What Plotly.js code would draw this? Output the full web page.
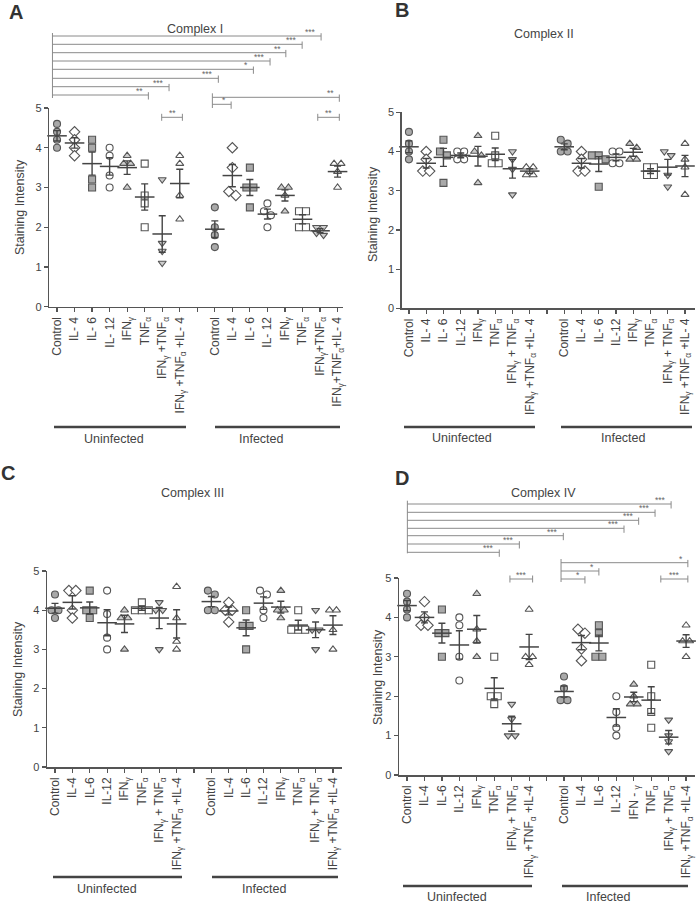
<!DOCTYPE html>
<html>
<head>
<meta charset="utf-8">
<script src="https://cdn.plot.ly/plotly-3.0.1.min.js"></script>
<style>html,body{margin:0;padding:0;background:#fff;}#chart{width:697px;height:903px;}</style>
</head>
<body>
<div id="chart"></div>
<script>
// ---------------- DATA ----------------
// Group order: 0-7 Uninfected, 8 = gap, 9-16 Infected
const treatments = ['Control','IL-4','IL-6','IL-12','IFNγ','TNFα','IFNγ+TNFα','IFNγ+TNFα+IL-4'];
const groupNames = ['Uninfected','Infected'];
const panelTitles = ['Complex I','Complex II','Complex III','Complex IV'];
const panelLetters = ['A','B','C','D'];

// Complex I
const complexI_points = [
  [4.6,4.4,4.2,4.0],[4.4,4.2,4.0,3.8],[4.2,4.0,3.2,3.0],[4.0,3.8,3.3,3.0],
  [3.8,3.6,3.6,3.0],[3.6,2.8,2.6,2.0],[3.2,1.6,1.4,1.1],[3.8,3.6,2.8,2.2],
  [2.5,2.0,1.8,1.5],[4.0,3.5,2.9,2.8],[3.5,3.0,3.0,2.5],[2.6,2.4,2.3,2.0],
  [3.0,3.0,2.8,2.4],[2.4,2.4,2.0,2.0],[2.0,2.0,1.85,1.8],[3.6,3.6,3.4,3.0]
];
const complexI_mean = [4.3,4.12,3.6,3.53,3.5,2.76,1.83,3.1, 1.95,3.3,3.0,2.33,2.8,2.2,1.91,3.4];
const complexI_sem  = [0.13,0.13,0.29,0.22,0.17,0.33,0.46,0.36, 0.21,0.28,0.2,0.125,0.14,0.115,0.05,0.14];

// Complex II
const complexII_points = [
  [4.5,4.2,4.0,3.8],[4.0,3.8,3.5,3.5],[4.3,4.0,3.9,3.2],[4.0,4.0,3.8,3.8],
  [4.4,4.0,3.9,3.2],[4.4,3.9,3.7,3.7],[4.0,3.8,3.55,2.9],[3.6,3.6,3.4,3.4],
  [4.3,4.2,4.0,4.0],[4.0,3.8,3.5,3.5],[3.9,3.9,3.8,3.1],[4.0,4.0,3.7,3.7],
  [4.2,4.1,3.8,3.8],[3.6,3.6,3.4,3.4],[4.0,3.9,3.4,3.1],[4.2,3.8,3.6,2.9]
];
const complexII_mean = [4.12,3.7,3.85,3.9,3.88,3.93,3.56,3.5, 4.12,3.7,3.68,3.85,3.98,3.5,3.6,3.63];
const complexII_sem  = [0.15,0.12,0.23,0.06,0.25,0.16,0.24,0.06, 0.075,0.12,0.19,0.087,0.1,0.06,0.2,0.27];

// Complex III
const complexIII_points = [
  [4.4,4.0,4.0,3.8],[4.5,4.5,4.0,3.8],[4.5,4.0,4.0,3.8],[4.5,3.9,3.3,3.0],
  [4.0,3.8,3.8,3.0],[4.2,4.0,4.0,4.0],[4.2,4.0,4.0,3.0],[4.6,3.8,3.2,3.0],
  [4.5,4.4,4.0,4.0],[4.2,4.0,4.0,3.7],[4.0,3.6,3.6,3.0],[4.5,4.4,4.0,3.8],
  [4.5,4.0,4.0,3.8],[4.0,3.5,3.5,3.5],[4.0,3.5,3.5,3.0],[4.0,4.0,3.5,3.0]
];
const complexIII_mean = [4.05,4.2,4.06,3.68,3.65,4.05,3.8,3.65, 4.22,3.98,3.55,4.18,4.08,3.62,3.5,3.62];
const complexIII_sem  = [0.125,0.17,0.15,0.33,0.22,0.05,0.27,0.36, 0.13,0.1,0.2,0.16,0.15,0.125,0.2,0.24];

// Complex IV
const complexIV_points = [
  [4.6,4.4,4.2,4.0],[4.4,4.0,3.8,3.8],[4.2,3.6,3.6,3.0],[4.0,3.8,3.0,2.4],
  [4.6,3.7,3.4,3.0],[3.0,2.0,2.0,1.8],[1.8,1.42,1.0,1.0],[4.2,3.0,3.0,2.8],
  [2.5,2.2,1.9,1.9],[3.7,3.6,3.2,2.9],[3.8,3.6,3.0,3.0],[2.0,1.6,1.2,1.0],
  [2.3,2.0,1.8,1.8],[2.8,2.0,1.6,1.2],[1.4,1.0,0.85,0.6],[3.8,3.4,3.4,3.0]
];
const complexIV_mean = [4.3,4.0,3.6,3.3,3.7,2.2,1.3,3.25, 2.12,3.36,3.35,1.46,1.98,1.9,0.96,3.4];
const complexIV_sem  = [0.13,0.14,0.25,0.36,0.35,0.27,0.19,0.32, 0.14,0.18,0.2,0.22,0.12,0.34,0.17,0.16];

// Tick labels
const ticksA = ['Control','IL- 4','IL- 6','IL- 12','IFN<sub>γ</sub>','TNF<sub>α</sub>','IFN<sub>γ</sub> +TNF<sub>α</sub>','IFN<sub>γ</sub> +TNF<sub>α</sub> +IL- 4','',
  'Control','IL- 4','IL- 6','IL- 12','IFN<sub>γ</sub>','TNF<sub>α</sub>','IFN<sub>γ</sub>+TNF<sub>α</sub>','IFN<sub>γ</sub>+TNF<sub>α</sub>+IL- 4'];
const ticksB = ['Control','IL- 4','IL- 6','IL-12','IFN<sub>γ</sub>','TNF<sub>α</sub>','IFN<sub>γ</sub> + TNF<sub>α</sub>','IFN<sub>γ</sub> +TNF<sub>α</sub> +IL- 4','',
  'Control','IL- 4','IL- 6','IL-12','IFN<sub>γ</sub>','TNF<sub>α</sub>','IFN<sub>γ</sub> + TNF<sub>α</sub>','IFN<sub>γ</sub> +TNF<sub>α</sub> +IL- 4'];
const ticksC = ['Control','IL-4','IL-6','IL-12','IFN<sub>γ</sub>','TNF<sub>α</sub>','IFN<sub>γ</sub> + TNF<sub>α</sub>','IFN<sub>γ</sub> +TNF<sub>α</sub> +IL-4','',
  'Control','IL-4','IL-6','IL-12','IFN<sub>γ</sub>','TNF<sub>α</sub>','IFN<sub>γ</sub> + TNF<sub>α</sub>','IFN<sub>γ</sub> +TNF<sub>α</sub> +IL-4'];
const ticksD = ['Control','IL-4','IL-6','IL-12','IFN<sub>γ</sub>','TNF<sub>α</sub>','IFN<sub>γ</sub> + TNF<sub>α</sub>','IFN<sub>γ</sub> +TNF<sub>α</sub> +IL-4','',
  'Control','IL-4','IL-6','IL-12','IFN - <sub>γ</sub>','TNF<sub>α</sub>','IFN<sub>γ</sub> + TNF<sub>α</sub>','IFN<sub>γ</sub> +TNF<sub>α</sub> +IL-4'];

// Significance brackets: [from, to, label]
const sigA_top = [[-0.26,15.06,'***'],[-0.26,13.98,'***'],[-0.26,13.05,'**'],[-0.26,12.15,'***'],[-0.26,11.2,'*'],[-0.26,9.2,'***'],[-0.26,6.39,'***'],[-0.26,5.21,'**']];
const sigA_inf = [[8.86,16.1,'**'],[8.86,9.93,'*']];
const sigA_pair = [[5.97,7.15,'**'],[14.87,16.1,'**']];
const sigD_top = [[0.02,15.14,'***'],[0.02,14.22,'***'],[0.02,13.28,'***'],[0.02,12.44,'***'],[0.02,8.96,'***'],[0.02,6.44,'***'],[0.02,5.29,'***']];
const sigD_inf = [[8.83,16.1,'*'],[8.83,11.0,'*'],[8.83,10.2,'*']];
const sigD_pair = [[5.9,7.2,'***'],[14.55,16.1,'***']];

// ---------------- LAYOUT / STYLE ----------------
const W = 697, H = 903;
const PX = x => x / W, PY = y => 1 - y / H;
const FONT = 'Liberation Sans, Arial, Helvetica, sans-serif';
const TXT = '#444', AX = '#555';

const symbols = ['circle','diamond','square','circle','triangle-up','square','triangle-down','triangle-up'];
const fills   = ['#a9a9a9','#ffffff','#a9a9a9','#ffffff','#cdcdcd','#ffffff','#cdcdcd','#ffffff'];
const sizes   = [7,8,7,7,7,7,7,7];

const positions = [0,1,2,3,4,5,6,7,9,10,11,12,13,14,15,16];

const panels = [
  {pts: complexI_points, mean: complexI_mean, sem: complexI_sem, ticks: ticksA,
   xd:[49.3,343], xr:[-0.44,16.31], yd:[108,306.7], title:[195,29], letter:[16,12],
   ylab:[20,207], glineY:427, gl:[[54,186],[215,340]], gtY:439, gt:[113.7,261]},
  {pts: complexII_points, mean: complexII_mean, sem: complexII_sem, ticks: ticksB,
   xd:[401.7,695], xr:[-0.42,16.58], yd:[112.3,308.3], title:[544,34], letter:[401.5,9.5],
   ylab:[373,214], glineY:427, gl:[[404,535],[561,692]], gtY:438, gt:[462,623]},
  {pts: complexIII_points, mean: complexIII_mean, sem: complexIII_sem, ticks: ticksC,
   xd:[47,342], xr:[-0.46,16.52], yd:[571,767], title:[192,493], letter:[8,473],
   ylab:[18,669], glineY:877, gl:[[53,182],[212,338]], gtY:889, gt:[107,264]},
  {pts: complexIV_points, mean: complexIV_mean, sem: complexIV_sem, ticks: ticksD,
   xd:[399,695], xr:[-0.46,16.51], yd:[578,775], title:[543,493], letter:[402,478],
   ylab:[378,677], glineY:886, gl:[[403,532],[562,688]], gtY:897, gt:[457,608]}
];

// Jitter: spread points with (nearly) equal values side by side
function jitter(vals) {
  const idx = vals.map((v,i)=>i).sort((a,b)=>vals[b]-vals[a]);
  const off = new Array(vals.length).fill(0);
  let k = 0;
  while (k < idx.length) {
    let row = [idx[k]]; let j = k+1;
    while (j < idx.length && Math.abs(vals[idx[k]] - vals[idx[j]]) <= 0.12) { row.push(idx[j]); j++; }
    row.forEach((id,r)=>{ off[id] = (r - (row.length-1)/2) * 0.4; });
    k = j;
  }
  return off;
}

const data = [];
const layout = {
  width: W, height: H, margin:{l:0,r:0,t:0,b:0},
  paper_bgcolor:'#fff', plot_bgcolor:'rgba(0,0,0,0)', showlegend:false,
  font:{family: FONT, color: TXT},
  shapes: [], annotations: []
};

panels.forEach((p, pi) => {
  const n = pi + 1;
  const xk = n === 1 ? 'x' : 'x' + n, yk = n === 1 ? 'y' : 'y' + n;
  const xaName = n === 1 ? 'xaxis' : 'xaxis' + n, yaName = n === 1 ? 'yaxis' : 'yaxis' + n;

  layout[xaName] = {
    domain:[PX(p.xd[0]), PX(p.xd[1])], range:p.xr, anchor: yk,
    tickmode:'array', tickvals:[...Array(17).keys()], ticktext:p.ticks, tickangle:-90,
    ticks:'outside', ticklen:4, tickwidth:1.2, tickcolor:AX,
    showline:true, linecolor:AX, linewidth:1.5, showgrid:false, zeroline:false,
    tickfont:{size:12, color:TXT, family:FONT}
  };
  layout[yaName] = {
    domain:[PY(p.yd[1]), PY(p.yd[0])], range:[0,5], anchor: xk,
    tickvals:[0,1,2,3,4,5], ticks:'outside', ticklen:4, tickwidth:1.2, tickcolor:AX,
    showline:true, linecolor:AX, linewidth:1.5, showgrid:false, zeroline:false,
    tickfont:{size:11, color:TXT, family:FONT}
  };

  // points per treatment
  for (let t = 0; t < 8; t++) {
    const xs = [], ys = [];
    [t, t+8].forEach(g => {
      const vals = p.pts[g];
      const off = jitter(vals);
      vals.forEach((v,i)=>{ xs.push(positions[g] + off[i]); ys.push(v); });
    });
    data.push({
      type:'scatter', mode:'markers', x:xs, y:ys, xaxis:xk, yaxis:yk,
      name: treatments[t], cliponaxis:false,
      marker:{symbol:symbols[t], size:sizes[t], color:fills[t], line:{color:AX, width:1.1}},
      hoverinfo:'y'
    });
  }
  // mean ± SEM
  data.push({
    type:'scatter', mode:'markers', x:positions, y:p.mean, xaxis:xk, yaxis:yk,
    cliponaxis:false,
    marker:{symbol:'line-ew', size:14, color:'#444', line:{color:'#444', width:1.5}},
    error_y:{type:'data', array:p.sem, visible:true, color:'#444', thickness:1.4, width:3.5},
    hoverinfo:'y'
  });

  // titles / letters / y label
  layout.annotations.push({text:panelTitles[pi], x:PX(p.title[0]), y:PY(p.title[1]), xref:'paper', yref:'paper',
    xanchor:'center', yanchor:'middle', showarrow:false, font:{size:12.5, color:TXT, family:FONT}});
  layout.annotations.push({text:'<b>'+panelLetters[pi]+'</b>', x:PX(p.letter[0]), y:PY(p.letter[1]), xref:'paper', yref:'paper',
    xanchor:'center', yanchor:'middle', showarrow:false, font:{size:20, color:'#333', family:FONT}});
  layout.annotations.push({text:'Staining Intensity', x:PX(p.ylab[0]), y:PY(p.ylab[1]), xref:'paper', yref:'paper',
    xanchor:'center', yanchor:'middle', textangle:-90, showarrow:false, font:{size:12.5, color:TXT, family:FONT}});
  // group lines and labels
  p.gl.forEach((g, gi) => {
    layout.shapes.push({type:'line', xref:'paper', yref:'paper', x0:PX(g[0]), x1:PX(g[1]), y0:PY(p.glineY), y1:PY(p.glineY),
      line:{color:'#444', width:2.6}});
    layout.annotations.push({text:groupNames[gi], x:PX(p.gt[gi]), y:PY(p.gtY), xref:'paper', yref:'paper',
      xanchor:'center', yanchor:'middle', showarrow:false, font:{size:12.5, color:TXT, family:FONT}});
  });
});

// ---- significance brackets ----
const BR = '#8a8a8a';
function ladder(xk, list, ysPx, vTop, vBot) {
  layout.shapes.push({type:'line', xref:xk, yref:'paper', x0:list[0][0], x1:list[0][0], y0:PY(vTop), y1:PY(vBot), line:{color:BR, width:1}});
  list.forEach((b, i) => {
    const y = ysPx[i];
    layout.shapes.push({type:'line', xref:xk, yref:'paper', x0:b[0], x1:b[1], y0:PY(y), y1:PY(y), line:{color:BR, width:1}});
    layout.shapes.push({type:'line', xref:xk, yref:'paper', x0:b[1], x1:b[1], y0:PY(y-2.8), y1:PY(y+4.5), line:{color:BR, width:1}});
    layout.annotations.push({text:b[2], x:b[1], y:PY(y), xref:xk, yref:'paper', xanchor:'right', yanchor:'bottom',
      xshift:-3, yshift:-3, showarrow:false, font:{size:8.5, color:'#666', family:FONT}});
  });
}
function pairs(xk, list, yPx) {
  list.forEach(b => {
    layout.shapes.push({type:'line', xref:xk, yref:'paper', x0:b[0], x1:b[1], y0:PY(yPx), y1:PY(yPx), line:{color:BR, width:1}});
    [b[0], b[1]].forEach(xx => layout.shapes.push({type:'line', xref:xk, yref:'paper', x0:xx, x1:xx, y0:PY(yPx-3.5), y1:PY(yPx+3.5), line:{color:BR, width:1}}));
    layout.annotations.push({text:b[2], x:(b[0]+b[1])/2, y:PY(yPx), xref:xk, yref:'paper', xanchor:'center', yanchor:'bottom',
      yshift:-3, showarrow:false, font:{size:8.5, color:'#666', family:FONT}});
  });
}
ladder('x', sigA_top, [36,44.3,52.7,61,69.3,78.3,86.7,95], 33, 98);
ladder('x', sigA_inf, [97.3,104.3], 93.3, 108);
pairs('x', sigA_pair, 117.3);
ladder('x4', sigD_top, [504,512.3,520.3,528.3,535.7,544,552.3], 500.7, 553.3);
ladder('x4', sigD_inf, [562.7,571,579], 559, 582);
pairs('x4', sigD_pair, 579);

Plotly.newPlot('chart', data, layout, {staticPlot:true, displayModeBar:false});
</script>
</body>
</html>
